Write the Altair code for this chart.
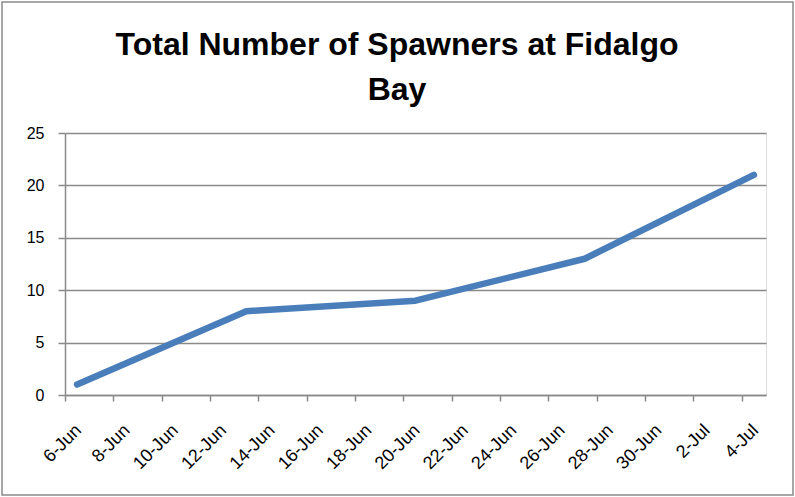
import altair as alt
import pandas as pd

# Data
dates = ["2011-06-06", "2011-06-13", "2011-06-20", "2011-06-27", "2011-07-04"]
spawners = [1, 8, 9, 13, 21]

# x-axis tick dates (every 2 days) and axis range
tick_dates = ["2011-06-06", "2011-06-08", "2011-06-10", "2011-06-12", "2011-06-14",
              "2011-06-16", "2011-06-18", "2011-06-20", "2011-06-22", "2011-06-24",
              "2011-06-26", "2011-06-28", "2011-06-30", "2011-07-02", "2011-07-04"]
axis_start, axis_end = "2011-06-06", "2011-07-05"
y_ticks = [0, 5, 10, 15, 20, 25]
title_lines = ["Total Number of Spawners at Fidalgo", "Bay"]


def ms(d):
    return int(pd.Timestamp(d, tz="UTC").value // 10**6)


# Excel date axis: points sit in the middle of each day's slot
df = pd.DataFrame({
    "date": [d + "T12:00:00Z" for d in dates],
    "spawners": spawners,
})

FONT = "Liberation Sans"
GRID = "#8a8a8a"

line = alt.Chart(df).mark_line(
    color="#4A7EBB", strokeWidth=6.5, strokeCap="round", strokeJoin="round"
).encode(
    x=alt.X("date:T",
            scale=alt.Scale(type="utc", domain=[ms(axis_start), ms(axis_end)]),
            axis=alt.Axis(values=[ms(t) for t in tick_dates],
                          labelExpr="utcFormat(datum.value, '%-d-%b')",
                          title=None, grid=False, labelAngle=-45,
                          labelAlign="right", labelBaseline="top",
                          labelFontSize=18, labelFont=FONT, labelColor="#000000",
                          tickSize=6, tickColor=GRID, domainColor=GRID,
                          domainWidth=1.5, tickWidth=1.5, labelPadding=20,
                          labelOffset=7, labelOverlap=False)),
    y=alt.Y("spawners:Q",
            scale=alt.Scale(domain=[0, 25], nice=False),
            axis=alt.Axis(values=y_ticks, title=None, grid=True,
                          gridColor=GRID, gridWidth=1.5,
                          labelFontSize=16, labelFont=FONT, labelColor="#000000",
                          tickSize=7, tickColor=GRID, tickWidth=1.5,
                          domainColor=GRID, domainWidth=1.5, labelPadding=14)),
)

border = alt.Chart(alt.Data(values=[{}])).mark_rect(
    fill=None, stroke="#8a8a8a", strokeWidth=1.5
).encode(
    x=alt.value(-63), x2=alt.value(728), y=alt.value(-131), y2=alt.value(362)
)

title = alt.Chart(alt.Data(values=[{}])).mark_text(
    text=title_lines, font=FONT, fontSize=32, fontWeight="bold", color="#000000",
    align="center", baseline="alphabetic", lineHeight=45,
).encode(x=alt.value(332), y=alt.value(-78))

chart = alt.layer(border, line, title).properties(
    width=701, height=262,
    padding={"left": 65, "top": 133, "right": 29, "bottom": 102},
    autosize=alt.AutoSizeParams(type="none"),
).configure_view(stroke=None).configure(background="white")

chart.save("out.html", embed_options={"renderer": "svg", "actions": False})
